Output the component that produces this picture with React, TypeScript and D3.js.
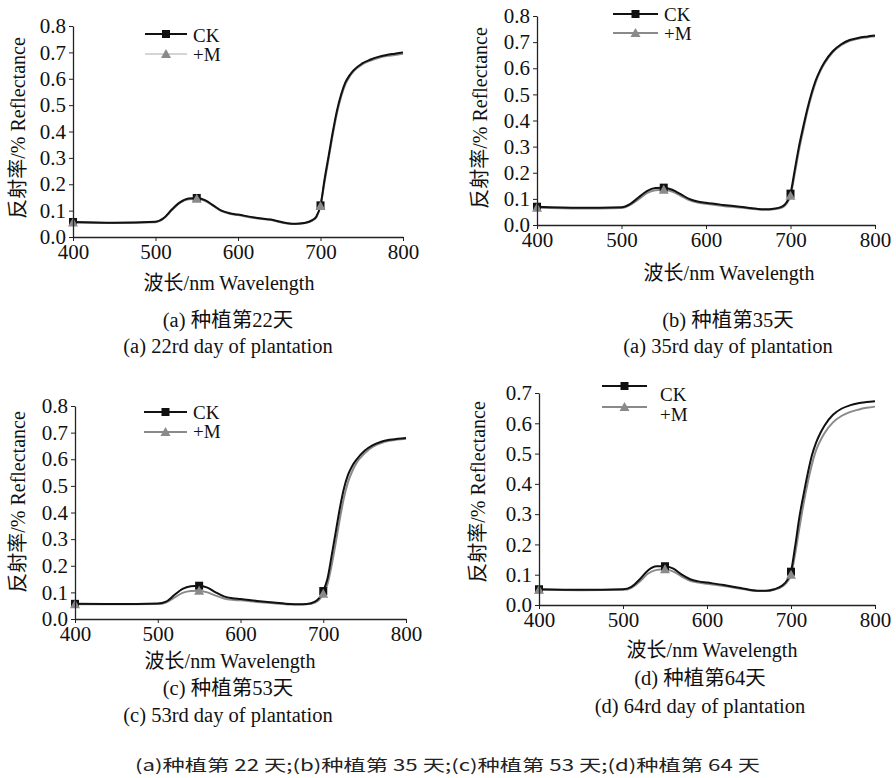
import React from 'react';
import * as d3 from 'd3';

// wavelengths (nm) sampled along every curve
const wavelengths = [400, 450, 500, 510, 520, 530, 540, 550, 560, 570, 580, 590, 600, 620, 640, 660, 670, 680, 690, 695, 700, 705, 710, 715, 720, 725, 730, 735, 740, 750, 760, 770, 780, 790, 800];
const markerWl = [400, 550, 700];
const seriesNames = ['CK', '+M'];

// reflectance
const ckA = [0.057, 0.054, 0.058, 0.072, 0.105, 0.132, 0.146, 0.148, 0.14, 0.12, 0.1, 0.09, 0.085, 0.074, 0.066, 0.052, 0.05, 0.053, 0.064, 0.078, 0.12, 0.22, 0.31, 0.4, 0.48, 0.54, 0.585, 0.612, 0.632, 0.657, 0.672, 0.683, 0.69, 0.695, 0.7];
const mA = [0.055, 0.053, 0.056, 0.07, 0.102, 0.13, 0.143, 0.145, 0.137, 0.118, 0.098, 0.088, 0.083, 0.072, 0.064, 0.051, 0.049, 0.052, 0.062, 0.075, 0.118, 0.21, 0.3, 0.39, 0.47, 0.532, 0.578, 0.607, 0.628, 0.653, 0.668, 0.679, 0.686, 0.69, 0.695];
const ckB = [0.07, 0.066, 0.068, 0.08, 0.105, 0.13, 0.142, 0.143, 0.135, 0.118, 0.1, 0.09, 0.085, 0.077, 0.07, 0.062, 0.06, 0.062, 0.07, 0.085, 0.12, 0.21, 0.3, 0.375, 0.445, 0.505, 0.555, 0.592, 0.622, 0.665, 0.692, 0.708, 0.716, 0.721, 0.725];
const mB = [0.066, 0.063, 0.065, 0.076, 0.098, 0.122, 0.133, 0.135, 0.128, 0.112, 0.095, 0.086, 0.081, 0.073, 0.067, 0.06, 0.058, 0.06, 0.067, 0.08, 0.112, 0.195, 0.285, 0.362, 0.435, 0.497, 0.548, 0.587, 0.617, 0.661, 0.688, 0.705, 0.713, 0.718, 0.722];
const ckC = [0.057, 0.056, 0.058, 0.065, 0.09, 0.113, 0.123, 0.125, 0.118, 0.1, 0.085, 0.078, 0.075, 0.068, 0.062, 0.056, 0.055, 0.056, 0.065, 0.078, 0.105, 0.15, 0.235, 0.325, 0.415, 0.49, 0.542, 0.575, 0.598, 0.632, 0.653, 0.666, 0.673, 0.677, 0.68];
const mC = [0.055, 0.055, 0.056, 0.062, 0.08, 0.098, 0.105, 0.106, 0.1, 0.088, 0.077, 0.072, 0.07, 0.064, 0.059, 0.054, 0.054, 0.055, 0.062, 0.072, 0.095, 0.13, 0.2, 0.285, 0.375, 0.455, 0.515, 0.555, 0.585, 0.622, 0.647, 0.661, 0.669, 0.674, 0.677];
const ckD = [0.052, 0.05, 0.052, 0.06, 0.085, 0.115, 0.128, 0.128, 0.12, 0.1, 0.085, 0.078, 0.074, 0.066, 0.056, 0.047, 0.047, 0.052, 0.065, 0.08, 0.11, 0.195, 0.29, 0.365, 0.435, 0.495, 0.537, 0.568, 0.593, 0.628, 0.648, 0.659, 0.666, 0.67, 0.673];
const mD = [0.05, 0.049, 0.05, 0.057, 0.078, 0.104, 0.116, 0.118, 0.11, 0.094, 0.08, 0.074, 0.07, 0.063, 0.054, 0.046, 0.046, 0.05, 0.062, 0.075, 0.1, 0.17, 0.255, 0.335, 0.405, 0.465, 0.512, 0.543, 0.568, 0.603, 0.624, 0.637, 0.645, 0.651, 0.655];

const xTicks = [400, 500, 600, 700, 800];
const yMaxes = [0.8, 0.8, 0.8, 0.7];
const captionsCn = ['(a) 种植第22天', '(b) 种植第35天', '(c) 种植第53天', '(d) 种植第64天'];
const captionsEn = ['(a) 22rd day of plantation', '(a) 35rd day of plantation', '(c) 53rd day of plantation', '(d) 64rd day of plantation'];
const xTitle = '波长/nm Wavelength';
const yTitle = '反射率/% Reflectance';
const bottomCaption = '(a)种植第 22 天;(b)种植第 35 天;(c)种植第 53 天;(d)种植第 64 天';

const FONT = "'Liberation Serif', 'Noto Sans CJK SC', serif";
const CK_COLOR = '#111';
const M_COLOR = '#8a8a8a';

// layout of each panel, in page pixels
const panels = [
  { x0: 73, x1: 403, yTop: 26, yBot: 237, xTitleX: 229, xTitleY: 290, yTitleX: 18, yTitleY: 128, capX: 228, capY1: 327, capY2: 353,
    leg: { x0: 145, x1: 187, y1: 34, y2: 54, tx: 193, t1: 42, t2: 61, thinM: true } },
  { x0: 537, x1: 875, yTop: 16, yBot: 225, xTitleX: 729, xTitleY: 280, yTitleX: 480, yTitleY: 118, capX: 728, capY1: 327, capY2: 353,
    leg: { x0: 613, x1: 658, y1: 14, y2: 33, tx: 664, t1: 21, t2: 40, thinM: false } },
  { x0: 75, x1: 406, yTop: 406, yBot: 619, xTitleX: 230, xTitleY: 668, yTitleX: 18, yTitleY: 502, capX: 228, capY1: 695, capY2: 722,
    leg: { x0: 144, x1: 187, y1: 412, y2: 432, tx: 193, t1: 419, t2: 438, thinM: false } },
  { x0: 539, x1: 875, yTop: 393, yBot: 605, xTitleX: 712, xTitleY: 657, yTitleX: 478, yTitleY: 492, capX: 700, capY1: 685, capY2: 713,
    leg: { x0: 602, x1: 647, y1: 386, y2: 407, tx: 660, t1: 401, t2: 421, thinM: false } },
];

const seriesData = [[ckA, mA], [ckB, mB], [ckC, mC], [ckD, mD]];

const Square = ({ x, y }) => <rect x={x - 4} y={y - 4} width={8} height={8} fill={CK_COLOR} />;
const Triangle = ({ x, y }) => <path d={`M${x - 5},${y + 4}L${x + 5},${y + 4}L${x},${y - 5}Z`} fill={M_COLOR} />;

const Axis = ({ x, y, axis }) => (
  <g transform={`translate(${x}, ${y})`} ref={node => {
    if (!node) return;
    const g = d3.select(node);
    g.call(axis);
    g.attr('font-family', null).attr('font-size', null);
    g.select('.domain').attr('stroke', '#222').attr('stroke-width', 1.3);
    g.selectAll('.tick line').attr('stroke', '#222');
    g.selectAll('.tick text').style('font-family', FONT).style('font-size', '21px').attr('fill', '#111');
  }} />
);

function Panel({ p, idx }) {
  const yMax = yMaxes[idx];
  const xScale = d3.scaleLinear().domain([400, 800]).range([p.x0, p.x1]);
  const yScale = d3.scaleLinear().domain([0, yMax]).range([p.yBot, p.yTop]);
  const line = d3.line<number>()
    .x((_, i) => xScale(wavelengths[i]))
    .y(d => yScale(d))
    .curve(d3.curveMonotoneX);
  const [ck, m] = seriesData[idx];
  const yTicks = d3.range(0, yMax + 0.001, 0.1);
  const xAxis = d3.axisBottom(xScale).tickValues(xTicks).tickSize(4).tickSizeOuter(0).tickPadding(3).tickFormat(d3.format('d'));
  const yAxis = d3.axisLeft(yScale).tickValues(yTicks).tickSize(4).tickSizeOuter(0).tickPadding(3).tickFormat(d3.format('.1f'));
  const valAt = (arr, w) => arr[wavelengths.indexOf(w)];
  const l = p.leg;
  const ts = { fontFamily: FONT, fontSize: '20px' };
  const cs = { fontFamily: FONT, fontSize: '20.5px' };
  const ls = { fontFamily: FONT, fontSize: '19px' };
  return (
    <g>
      <path d={line(m)} fill="none" stroke={M_COLOR} strokeWidth={2} />
      <path d={line(ck)} fill="none" stroke={CK_COLOR} strokeWidth={2} />
      {markerWl.map(w => <Square key={'s' + w} x={xScale(w)} y={yScale(valAt(ck, w))} />)}
      {markerWl.map(w => <Triangle key={'t' + w} x={xScale(w)} y={yScale(valAt(m, w))} />)}
      <Axis x={0} y={p.yBot} axis={xAxis} />
      <Axis x={p.x0} y={0} axis={yAxis} />
      <text x={p.xTitleX} y={p.xTitleY} textAnchor="middle" style={ts} fill="#111">{xTitle}</text>
      <text transform={`translate(${p.yTitleX + 7}, ${p.yTitleY}) rotate(-90)`} textAnchor="middle" style={ts} fill="#111">{yTitle}</text>
      <line x1={l.x0} x2={l.x1} y1={l.y1} y2={l.y1} stroke={CK_COLOR} strokeWidth={2} />
      <Square x={(l.x0 + l.x1) / 2} y={l.y1} />
      <line x1={l.x0} x2={l.x1} y1={l.y2} y2={l.y2} stroke={l.thinM ? '#aaa' : M_COLOR} strokeWidth={l.thinM ? 1 : 2} />
      <Triangle x={(l.x0 + l.x1) / 2} y={l.y2} />
      <text x={l.tx} y={l.t1} style={ls} fill="#111">{seriesNames[0]}</text>
      <text x={l.tx} y={l.t2} style={ls} fill="#111">{seriesNames[1]}</text>
      <text x={p.capX} y={p.capY1} textAnchor="middle" style={cs} fill="#111">{captionsCn[idx]}</text>
      <text x={p.capX} y={p.capY2} textAnchor="middle" style={cs} fill="#111">{captionsEn[idx]}</text>
    </g>
  );
}

export default function App() {
  return (
    <svg width={896} height={778} style={{ position: 'absolute', left: 0, top: 0, background: '#fff', fontFamily: FONT }}>
      <rect width={896} height={778} fill="#fff" />
      {panels.map((p, i) => <Panel key={i} p={p} idx={i} />)}
      <text x={135} y={771} textLength={625} lengthAdjust="spacingAndGlyphs" style={{ fontFamily: "'Noto Sans CJK SC', sans-serif", fontSize: '16px' }} fill="#222">{bottomCaption}</text>
    </svg>
  );
}
